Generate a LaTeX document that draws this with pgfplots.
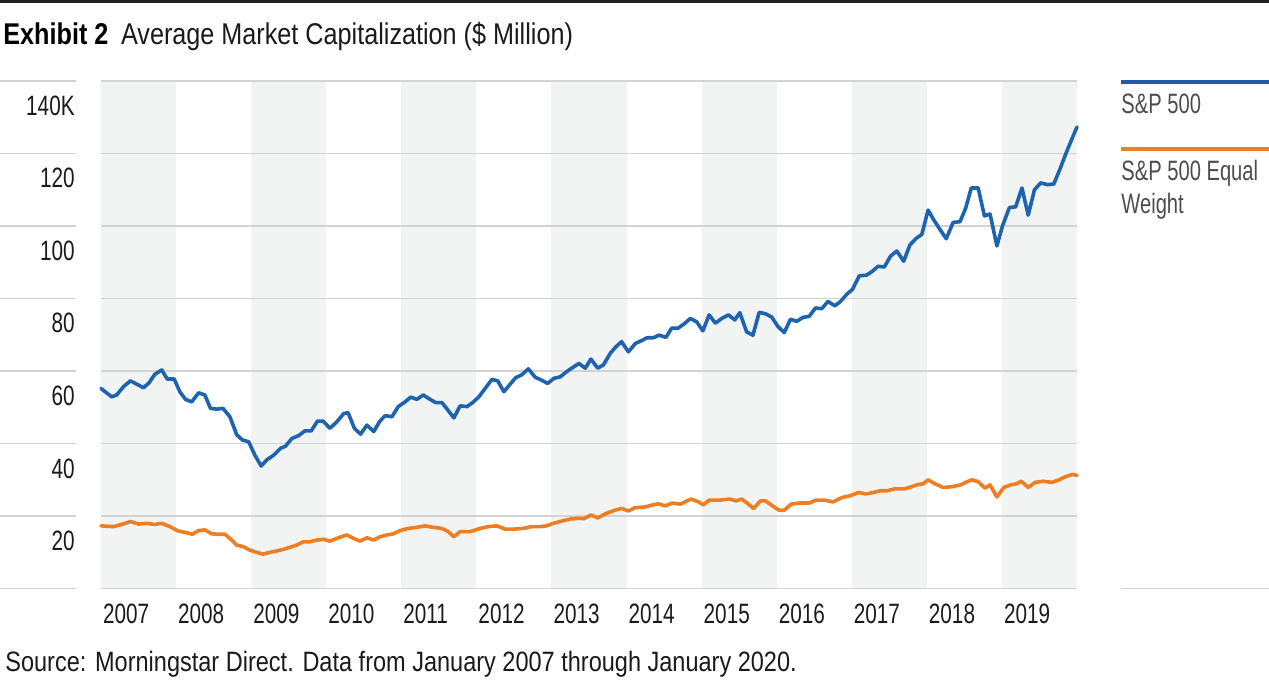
\documentclass[border=0pt]{standalone}
\usepackage{fontspec}
\setmainfont{Liberation Sans}[FakeStretch=0.84]
\newfontfamily\numfont{Liberation Sans}[FakeStretch=0.74]
\newfontfamily\legfont{Liberation Sans}[FakeStretch=0.72]
\usepackage{pgfplots}
\pgfplotsset{compat=1.18}
\definecolor{msblue}{HTML}{1D63B0}
\definecolor{legblue}{HTML}{2458A8}
\definecolor{msorange}{HTML}{EF7D22}
\definecolor{band}{HTML}{F2F3F3}
\definecolor{gridc}{HTML}{D3D3D3}
\definecolor{txt}{HTML}{1A1A1A}
\definecolor{legtxt}{HTML}{4D4D4D}
\begin{document}
\begin{tikzpicture}
\useasboundingbox (0,0) rectangle (634.5pt,-350pt);
\begin{scope}[x=0.5pt,y=-0.5pt]
 \fill[black!88] (0,0) rectangle (1269,3);
 \node[anchor=base west,inner sep=0,text=black,font=\fontsize{15}{18}\selectfont\bfseries] at (3,44.5) {Exhibit 2};
 \node[anchor=base west,inner sep=0,text=txt,font=\fontsize{15}{18}\selectfont] at (120.7,44.5) {Average Market Capitalization (\$ Million)};
 \foreach \yy in {81.0,153.5,226.0,298.5,371.1,443.6,516.1,588.6} \draw[gridc,line width=0.8pt] (0,\yy) -- (76,\yy);
 \fill[legblue] (1121,80.3) rectangle (1269,84.3);
 \node[anchor=base west,inner sep=0,text=legtxt,font=\legfont\fontsize{14}{16}\selectfont] at (1121,114) {S\&P 500};
 \fill[msorange] (1121,147.3) rectangle (1269,151.3);
 \node[anchor=base west,inner sep=0,text=legtxt,font=\legfont\fontsize{14}{16}\selectfont] at (1121,181) {S\&P 500 Equal};
 \node[anchor=base west,inner sep=0,text=legtxt,font=\legfont\fontsize{14}{16}\selectfont] at (1121,214) {Weight};
 \draw[gridc,line width=0.8pt] (1121,588.6) -- (1269,588.6);
 \node[anchor=base west,inner sep=0,text=txt,font=\fontsize{14}{16}\selectfont] at (5,671) {Source: Morningstar Direct. Data from January 2007 through January 2020.};
\end{scope}
\begin{axis}[
 at={(50.5pt,-294.3pt)}, anchor=south west,
 scale only axis, width=488pt, height=253.8pt,
 xmin=0, xmax=156, ymin=0, ymax=140,
 axis line style={draw=none},
 tick style={draw=none},
 xtick={0,12,...,144},
 xticklabels={2007,2008,2009,2010,2011,2012,2013,2014,2015,2016,2017,2018,2019},
 ytick={20,40,...,140},
 yticklabels={20,40,60,80,100,120,140K},
 ticklabel style={font=\numfont\fontsize{14}{16}\selectfont, text=txt, inner sep=0pt},
 xticklabel style={anchor=north west, xshift=0.85pt, yshift=-7.5pt},
 yticklabel style={anchor=east, xshift=-13pt, yshift=-12.4pt},
 /pgf/number format/assume math mode=true,
 clip=false,
]
\fill[band] (axis cs:0,0) rectangle (axis cs:12,140);
\fill[band] (axis cs:24,0) rectangle (axis cs:36,140);
\fill[band] (axis cs:48,0) rectangle (axis cs:60,140);
\fill[band] (axis cs:72,0) rectangle (axis cs:84,140);
\fill[band] (axis cs:96,0) rectangle (axis cs:108,140);
\fill[band] (axis cs:120,0) rectangle (axis cs:132,140);
\fill[band] (axis cs:144,0) rectangle (axis cs:156,140);
\draw[gridc,line width=0.8pt] (axis cs:0,0) -- (axis cs:156,0);
\draw[gridc,line width=0.8pt] (axis cs:0,20) -- (axis cs:156,20);
\draw[gridc,line width=0.8pt] (axis cs:0,40) -- (axis cs:156,40);
\draw[gridc,line width=0.8pt] (axis cs:0,60) -- (axis cs:156,60);
\draw[gridc,line width=0.8pt] (axis cs:0,80) -- (axis cs:156,80);
\draw[gridc,line width=0.8pt] (axis cs:0,100) -- (axis cs:156,100);
\draw[gridc,line width=0.8pt] (axis cs:0,120) -- (axis cs:156,120);
\draw[gridc,line width=0.8pt] (axis cs:0,140) -- (axis cs:156,140);
\addplot[msblue, line width=1.8pt, line join=round, line cap=round] coordinates {
(0,55.2)(1.7,52.9)(2.5,53.4)(3.6,55.7)(4.7,57.3)(5.7,56.4)(6.8,55.4)(7.7,56.8)(8.6,59.1)(9.7,60.3)
(10.6,57.8)(11.7,57.8)(12.6,54.3)(13.5,52.2)(14.5,51.5)(15.6,54.0)(16.6,53.4)(17.5,49.7)(18.5,49.5)(19.5,49.7)
(20.6,47.4)(21.7,42.4)(22.6,41.0)(23.6,40.5)(24.6,36.8)(25.6,33.8)(26.5,35.5)(27.6,36.8)(28.7,38.7)(29.5,39.3)
(30.5,41.4)(31.6,42.2)(32.6,43.5)(33.6,43.5)(34.6,46.2)(35.5,46.2)(36.6,44.2)(37.7,46.0)(38.8,48.3)(39.5,48.5)
(40.5,44.2)(41.5,42.6)(42.5,45.1)(43.6,43.3)(44.5,46.0)(45.4,47.7)(46.5,47.4)(47.5,50.2)(48.6,51.5)(49.5,52.8)
(50.5,52.2)(51.5,53.4)(52.6,52.2)(53.5,51.3)(54.5,51.3)(55.5,49.1)(56.4,47.1)(57.4,50.4)(58.5,50.2)(59.4,51.3)
(60.4,52.9)(61.4,55.2)(62.5,57.7)(63.4,57.3)(64.4,54.3)(65.4,56.4)(66.3,58.2)(67.2,58.9)(68.3,60.6)(69.4,58.3)
(70.4,57.5)(71.4,56.6)(72.4,58.0)(73.4,58.4)(74.4,59.8)(75.4,61.0)(76.4,62.1)(77.4,60.8)(78.3,63.3)(79.4,60.8)
(80.3,61.7)(81.4,64.9)(82.3,66.7)(83.2,68.1)(84.3,65.3)(85.4,67.6)(86.3,68.3)(87.3,69.2)(88.3,69.2)(89.2,69.9)
(90.3,69.3)(91.2,71.8)(92.2,71.8)(93.2,73.0)(94.2,74.5)(95.2,73.6)(96.2,71.1)(97.2,75.5)(98.2,73.2)(99.2,74.5)
(100.3,75.5)(101.3,74.1)(102.1,76.1)(103.2,70.8)(104.2,69.9)(105.2,76.2)(106.2,75.8)(107.2,74.9)(108.2,72.3)(109.2,70.6)
(110.2,74.3)(111.2,73.7)(112.2,74.8)(113.2,75.1)(114.2,77.4)(115.2,77.2)(116.2,79.2)(117.3,78.0)(118.2,79.2)(119.2,81.2)
(120.1,82.5)(121.2,86.3)(122.3,86.4)(123.2,87.4)(124.2,88.9)(125.2,88.7)(126.2,91.7)(127.2,93.1)(128.3,90.3)(129.3,94.8)
(130.3,96.6)(131.2,97.7)(132.2,104.4)(133.1,101.7)(134.2,98.8)(135.1,96.5)(136.2,101.0)(137.3,101.2)(138.2,104.9)(139.1,110.5)
(140.2,110.5)(141.2,102.8)(142.1,103.3)(143.2,94.5)(144.1,100.1)(145.2,105.1)(146.2,105.3)(147.2,110.5)(148.2,103.0)(149.2,110.0)
(150.2,111.9)(151.3,111.4)(152.3,111.6)(153.3,115.8)(154.2,119.9)(155.2,124.1)(156,127.3)
};
\addplot[msorange, line width=1.8pt, line join=round, line cap=round] coordinates {
(0,17.3)(2.0,17.1)(3.3,17.7)(4.7,18.5)(6.0,17.8)(7.3,18.0)(8.6,17.7)(9.7,18.0)(11.0,17.1)(12.3,15.9)
(13.7,15.4)(14.6,15.0)(15.6,16.0)(16.6,16.2)(17.7,15.1)(18.8,15.0)(19.8,15.0)(20.9,13.4)(21.7,12.0)(22.7,11.6)
(23.8,10.6)(24.9,10.0)(25.9,9.5)(27.0,10.0)(28.1,10.4)(29.1,10.8)(30.2,11.4)(31.3,12.0)(32.3,12.9)(33.4,12.9)
(34.5,13.4)(35.5,13.6)(36.6,13.1)(37.9,14.0)(39.3,14.8)(40.3,13.9)(41.4,13.1)(42.5,14.0)(43.6,13.4)(44.6,14.3)
(45.7,14.8)(46.7,15.1)(47.8,16.0)(49.1,16.6)(50.5,16.9)(51.8,17.3)(53.1,16.9)(54.5,16.6)(55.5,15.7)(56.4,14.3)
(57.4,15.7)(59.0,15.7)(60.6,16.6)(61.9,17.1)(63.3,17.3)(64.6,16.4)(65.9,16.4)(67.5,16.6)(68.8,17.1)(70.2,17.1)
(71.2,17.3)(72.3,18.0)(73.6,18.6)(75.0,19.2)(76.3,19.4)(77.2,19.3)(78.3,20.3)(79.4,19.5)(80.7,20.7)(82.1,21.6)
(83.2,22.1)(84.3,21.4)(85.3,22.3)(86.9,22.5)(88.0,23.0)(89.1,23.4)(90.2,22.8)(91.3,23.6)(92.6,23.3)(94.3,24.7)
(95.4,24.0)(96.3,23.1)(97.2,24.4)(98.9,24.4)(100.5,24.7)(101.5,24.2)(102.4,24.7)(103.2,23.7)(104.3,22.1)(105.4,24.2)
(106.2,24.2)(107.6,22.5)(108.4,21.6)(109.2,21.6)(110.3,23.3)(111.6,23.6)(113.2,23.6)(114.3,24.4)(115.7,24.4)(117.0,23.9)
(118.4,25.1)(119.7,25.6)(121.1,26.5)(122.2,26.1)(123.2,26.4)(124.6,27.0)(125.7,27.0)(126.8,27.5)(128.4,27.5)(129.2,27.9)
(130.6,28.7)(131.4,28.9)(132.2,30.0)(133.3,28.9)(134.6,27.9)(136.0,28.1)(137.4,28.6)(138.2,29.3)(139.2,30.0)(140.2,29.5)
(141.3,27.7)(142.1,28.6)(143.2,25.3)(144.3,27.9)(145.4,28.6)(146.3,28.9)(147.1,29.6)(148.2,27.9)(149.3,29.3)(150.6,29.6)
(152.0,29.3)(153.1,30.0)(154.2,30.9)(155.3,31.5)(156,31.2)
};
\end{axis}
\end{tikzpicture}
\end{document}
